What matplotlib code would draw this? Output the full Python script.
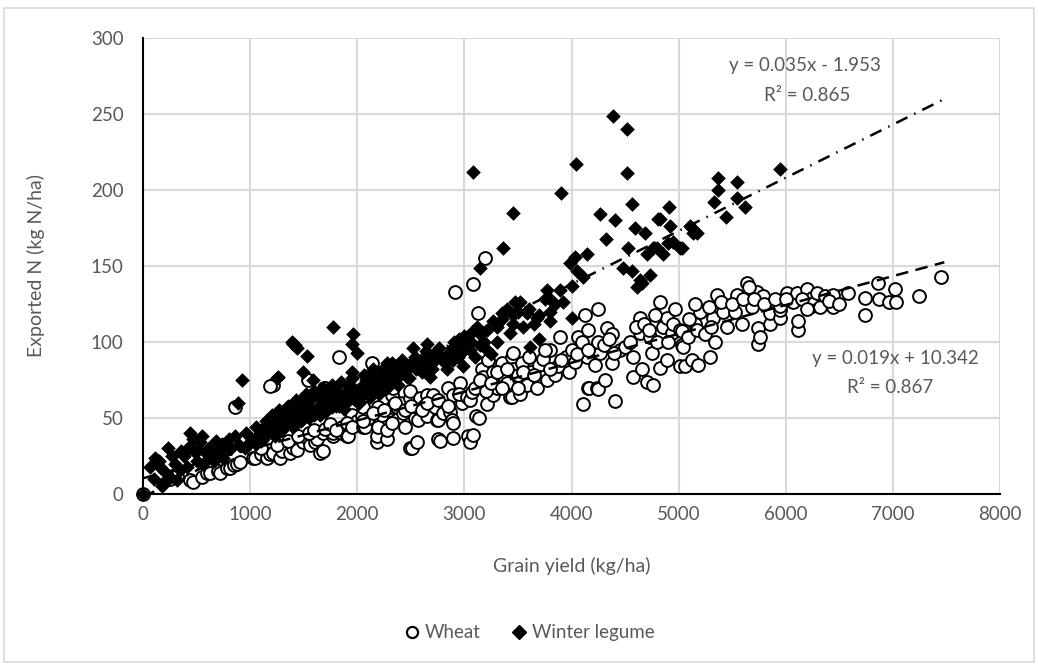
import numpy as np
import matplotlib
matplotlib.use("Agg")
import matplotlib.pyplot as plt
from matplotlib.patches import Rectangle
from matplotlib.lines import Line2D

plt.rcParams['font.family'] = ['Lato', 'DejaVu Sans']

# (grain yield kg/ha, exported N kg N/ha)
wheat = [
    (0, 0), (250, 10), (320, 12), (439, 9), (467, 8), (551, 11), (600, 14), (625, 14), (700, 15),
    (719, 14), (780, 17), (812, 17), (850, 19), (877, 20), (905, 21), (859, 57),
    (1027, 24), (1045, 24), (1100, 26), (1158, 24), (1186, 26), (1214, 27), (1279, 24), (1300, 28),
    (1372, 27), (1400, 30), (1438, 29), (1494, 34), (1531, 37), (1560, 32), (1606, 34), (1624, 36),
    (1652, 27), (1680, 28), (1680, 40), (1699, 70), (1214, 72), (1186, 71), (1540, 75), (1690, 70),
    (1830, 90), (1774, 38), (1774, 40), (1858, 40), (1858, 44), (1904, 38), (1914, 38), (1951, 52),
    (1960, 45), (2000, 48), (1100, 30), (1250, 32), (1350, 35), (1450, 38), (1550, 40), (1600, 42),
    (1700, 43), (1750, 46), (1800, 42), (1900, 47), (1950, 44),
    (2044, 51), (2054, 44), (2054, 57), (2072, 44), (2100, 50), (2138, 86), (2184, 34), (2184, 38),
    (2194, 44), (2194, 57), (2230, 52), (2278, 36), (2278, 42), (2300, 55), (2324, 47), (2324, 57),
    (2324, 65), (2334, 70), (2371, 57), (2400, 60), (2427, 53), (2446, 44), (2492, 30), (2492, 63),
    (2492, 68), (2511, 30), (2540, 50), (2558, 34), (2558, 57), (2567, 49), (2586, 63), (2620, 58),
    (2651, 51), (2651, 65), (2700, 60), (2707, 65), (2726, 57), (2745, 49), (2754, 36), (2754, 49),
    (2772, 35), (2800, 53), (2847, 70), (2866, 54), (2885, 49), (2894, 37), (2894, 47), (2894, 65),
    (2912, 133), (2959, 73), (2980, 60), (2050, 48), (2150, 53), (2250, 55), (2350, 60), (2450, 55),
    (2500, 58), (2600, 55), (2650, 60), (2750, 62), (2850, 58), (2950, 66),
    (3024, 64), (3034, 38), (3052, 34), (3052, 62), (3071, 67), (3080, 39), (3080, 138), (3108, 51),
    (3127, 119), (3136, 50), (3164, 82), (3174, 77), (3192, 155), (3211, 59), (3220, 88), (3267, 65),
    (3267, 80), (3300, 70), (3351, 82), (3351, 86), (3379, 75), (3398, 73), (3426, 64), (3445, 64),
    (3445, 90), (3454, 82), (3454, 93), (3500, 78), (3519, 66), (3538, 86), (3580, 72), (3620, 80),
    (3678, 70), (3700, 85), (3734, 89), (3771, 75), (3800, 95), (3850, 78), (3874, 84), (3893, 103),
    (3950, 90), (3980, 80), (3100, 70), (3150, 75), (3200, 68), (3250, 73), (3300, 80), (3350, 70),
    (3400, 82), (3500, 70), (3550, 80), (3600, 90), (3650, 78), (3750, 95), (3800, 82), (3900, 88),
    (4033, 87), (4061, 103), (4107, 59), (4126, 118), (4145, 90), (4154, 70), (4154, 108), (4163, 70),
    (4200, 95), (4219, 85), (4238, 70), (4247, 69), (4247, 122), (4266, 93), (4313, 75), (4331, 109),
    (4378, 86), (4378, 105), (4406, 61), (4450, 95), (4500, 97), (4550, 100), (4574, 77), (4574, 90),
    (4640, 106), (4640, 116), (4658, 82), (4705, 74), (4733, 103), (4752, 93), (4761, 72),
    (4800, 100), (4826, 83), (4826, 126), (4850, 110), (4892, 88), (4892, 116), (4938, 106),
    (4966, 122), (4000, 95), (4050, 92), (4100, 100), (4150, 95), (4250, 100), (4300, 98),
    (4350, 102), (4400, 93), (4600, 110), (4680, 112), (4720, 108), (4780, 118), (4900, 100),
    (4950, 112),
    (5013, 84), (5013, 108), (5031, 98), (5031, 107), (5041, 97), (5060, 84), (5087, 103), (5125, 88),
    (5153, 112), (5172, 108), (5181, 85), (5200, 120), (5250, 105), (5293, 90), (5321, 116),
    (5340, 100), (5358, 131), (5414, 120), (5450, 110), (5527, 120), (5545, 131), (5592, 112),
    (5638, 139), (5685, 123), (5732, 133), (5741, 99), (5741, 109), (5760, 103), (5788, 130),
    (5853, 112), (5853, 119), (5946, 116), (5946, 121), (5946, 124), (6012, 132), (6068, 126),
    (6105, 132), (6114, 108), (6114, 114), (6198, 135), (6245, 124), (6245, 129), (6291, 132),
    (6320, 123), (6366, 130), (6441, 123), (6441, 131), (6581, 132), (6740, 118), (6740, 129),
    (6861, 139), (6871, 128), (6964, 126), (7020, 135), (7029, 126), (7244, 130), (7449, 143),
    (5100, 115), (5150, 125), (5280, 123), (5300, 110), (5400, 126), (5500, 125), (5600, 128),
    (5660, 136), (5700, 128), (5800, 125), (5900, 128), (6000, 128), (6150, 128), (6200, 122),
    (6400, 127), (6500, 125),
]

legume = [
    (0, 0), (65, 18), (112, 24), (159, 18), (177, 5), (187, 7), (233, 30), (252, 11), (300, 20),
    (317, 9), (345, 16), (380, 25), (411, 18), (439, 40), (467, 36), (500, 22), (513, 29), (532, 34),
    (560, 20), (600, 26), (625, 26), (660, 22), (691, 29), (720, 28), (747, 24), (784, 31), (820, 30),
    (887, 60), (924, 75), (952, 30), (980, 33), (100, 10), (150, 22), (200, 15), (270, 25), (350, 28),
    (420, 30), (480, 28), (550, 38), (620, 30), (680, 35), (740, 33), (800, 36), (860, 38), (900, 32),
    (960, 40),
    (1020, 35), (1064, 38), (1100, 42), (1150, 40), (1180, 45), (1220, 47), (1251, 76), (1260, 77),
    (1280, 50), (1300, 42), (1330, 52), (1360, 48), (1391, 100), (1400, 99), (1419, 98), (1410, 55),
    (1438, 96), (1450, 60), (1480, 55), (1494, 80), (1500, 64), (1531, 91), (1540, 58), (1560, 62),
    (1587, 75), (1600, 52), (1620, 66), (1652, 64), (1660, 56), (1700, 60), (1720, 65), (1746, 62),
    (1774, 66), (1774, 110), (1800, 68), (1830, 58), (1860, 64), (1904, 68), (1920, 72), (1951, 80),
    (1951, 76), (1951, 99), (1960, 105), (1998, 93), (1980, 62), (1050, 33), (1120, 36), (1200, 40),
    (1250, 44), (1320, 45), (1380, 48), (1450, 50), (1520, 52), (1580, 55), (1640, 58), (1700, 54),
    (1760, 57), (1820, 62), (1880, 60), (1940, 66), (1050, 44), (1100, 35), (1150, 48), (1200, 52),
    (1230, 38), (1270, 55), (1300, 48), (1350, 58), (1400, 44), (1430, 62), (1470, 48), (1520, 66),
    (1550, 50), (1600, 68), (1650, 52), (1680, 70), (1720, 55), (1760, 72), (1800, 58), (1850, 74),
    (1880, 56), (1920, 62), (1960, 70),
    (2026, 70), (2050, 66), (2080, 75), (2119, 75), (2147, 82), (2160, 70), (2184, 68), (2220, 76),
    (2250, 72), (2278, 86), (2300, 80), (2334, 77), (2360, 84), (2400, 78), (2427, 82), (2464, 77),
    (2500, 86), (2520, 96), (2560, 88), (2586, 84), (2620, 90), (2651, 99), (2679, 77), (2679, 85),
    (2720, 92), (2772, 91), (2800, 88), (2838, 82), (2885, 96), (2894, 88), (2920, 94), (2959, 98),
    (2987, 84), (2000, 64), (2100, 68), (2200, 74), (2300, 74), (2350, 78), (2450, 80), (2550, 82),
    (2700, 86), (2850, 92), (2950, 102), (2020, 60), (2060, 78), (2120, 64), (2150, 80), (2200, 66),
    (2240, 82), (2280, 70), (2320, 86), (2380, 72), (2420, 88), (2480, 76), (2540, 90), (2600, 80),
    (2640, 94), (2700, 82), (2760, 96), (2820, 86), (2900, 100), (2940, 90),
    (3024, 103), (3050, 95), (3080, 107), (3080, 212), (3100, 90), (3146, 98), (3146, 149),
    (3180, 100), (3211, 95), (3211, 108), (3250, 92), (3267, 114), (3300, 100), (3351, 119),
    (3361, 162), (3398, 122), (3426, 106), (3450, 112), (3454, 185), (3473, 126), (3500, 120),
    (3519, 126), (3550, 110), (3585, 119), (3613, 97), (3650, 112), (3678, 116), (3700, 102),
    (3771, 134), (3799, 114), (3799, 128), (3850, 125), (3893, 134), (3902, 198), (3921, 126),
    (3986, 152), (4005, 116), (4005, 137), (3000, 95), (3150, 105), (3300, 110), (3350, 115),
    (3450, 118), (3600, 122), (3700, 118), (3750, 128), (3800, 120), (3000, 104), (3060, 100),
    (3120, 110),
    (4033, 156), (4042, 217), (4051, 147), (4107, 143), (4145, 158), (4266, 184), (4322, 168),
    (4387, 249), (4406, 180), (4480, 149), (4518, 240), (4518, 211), (4527, 162), (4565, 191),
    (4565, 147), (4593, 175), (4611, 136), (4640, 141), (4658, 139), (4686, 172), (4705, 158),
    (4733, 144), (4761, 162), (4798, 162), (4808, 181), (4826, 181), (4854, 158), (4901, 165),
    (4910, 189), (4919, 176), (4947, 166), (5013, 162), (5031, 162), (5106, 176), (5125, 175),
    (5134, 172), (5172, 172), (5330, 192), (5368, 200), (5368, 208), (5442, 182), (5545, 195),
    (5545, 205), (5620, 189), (5946, 214),
]

# linear trendlines shown on the chart
wheat_fit = (0.019, 10.342, 0.867)
legume_fit = (0.035, -1.953, 0.865)
trend_end = 7480

wheat_x, wheat_y = zip(*wheat)
legume_x, legume_y = zip(*legume)

grey = '#595959'
grid = '#d9d9d9'

fig = plt.figure(figsize=(10.38, 6.69), dpi=100)
ax = fig.add_axes([0.1378, 0.2616, 0.8256, 0.6816])

ax.scatter(wheat_x, wheat_y, s=85, marker='o', facecolor='white', edgecolor='black',
           linewidth=1.4, zorder=3, clip_on=False)
ax.scatter(legume_x, legume_y, s=48, marker='D', facecolor='black', edgecolor='black',
           linewidth=0.5, zorder=4, clip_on=False)

tx = np.array([0, trend_end])
ax.plot(tx, wheat_fit[0] * tx + wheat_fit[1], color='black', lw=1.8,
        dashes=(5, 3), zorder=5)
ax.plot(tx, legume_fit[0] * tx + legume_fit[1], color='black', lw=1.8,
        dashes=(5, 3, 0.6, 3), zorder=5)

fs = 13.5
ax.text(6180, 282, 'y = 0.035x - 1.953', ha='center', va='center', color=grey, fontsize=fs)
ax.text(6200, 262, 'R² = 0.865', ha='center', va='center', color=grey, fontsize=fs)
ax.text(7020, 89, 'y = 0.019x + 10.342', ha='center', va='center', color=grey, fontsize=fs)
ax.text(6970, 70, 'R² = 0.867', ha='center', va='center', color=grey, fontsize=fs)

ax.set_xlim(0, 8000)
ax.set_ylim(0, 300)
ax.set_xticks(np.arange(0, 8001, 1000))
ax.set_yticks(np.arange(0, 301, 50))
ax.grid(True, color=grid, lw=1.5, zorder=0)
ax.set_axisbelow(True)
for s in ['top', 'right']:
    ax.spines[s].set_visible(False)
for s in ['left', 'bottom']:
    ax.spines[s].set_color('black')
    ax.spines[s].set_linewidth(1.5)
    ax.spines[s].set_zorder(6)
ax.tick_params(length=0, labelsize=fs, labelcolor=grey)
ax.tick_params(axis='y', pad=14)
ax.tick_params(axis='x', pad=9)
ax.set_xlabel('Grain yield (kg/ha)', fontsize=14, color=grey, labelpad=24)
ax.set_ylabel('Exported N (kg N/ha)', fontsize=14, color=grey, labelpad=33)

handles = [
    Line2D([], [], marker='o', ls='none', markersize=8, markerfacecolor='white',
           markeredgecolor='black', markeredgewidth=1.6, label='Wheat'),
    Line2D([], [], marker='D', ls='none', markersize=7, markerfacecolor='black',
           markeredgecolor='black', label='Winter legume'),
]
fig.legend(handles=handles, loc='center', bbox_to_anchor=(0.51, 0.054), ncol=2, frameon=False,
           fontsize=fs, labelcolor=grey, handlelength=0.8, handletextpad=0.3,
           columnspacing=1.6)

fig.patches.append(Rectangle((0.004, 0.01), 0.992, 0.978, transform=fig.transFigure,
                             fill=False, edgecolor=grid, lw=1.2))

fig.savefig('out.png', dpi=100)
